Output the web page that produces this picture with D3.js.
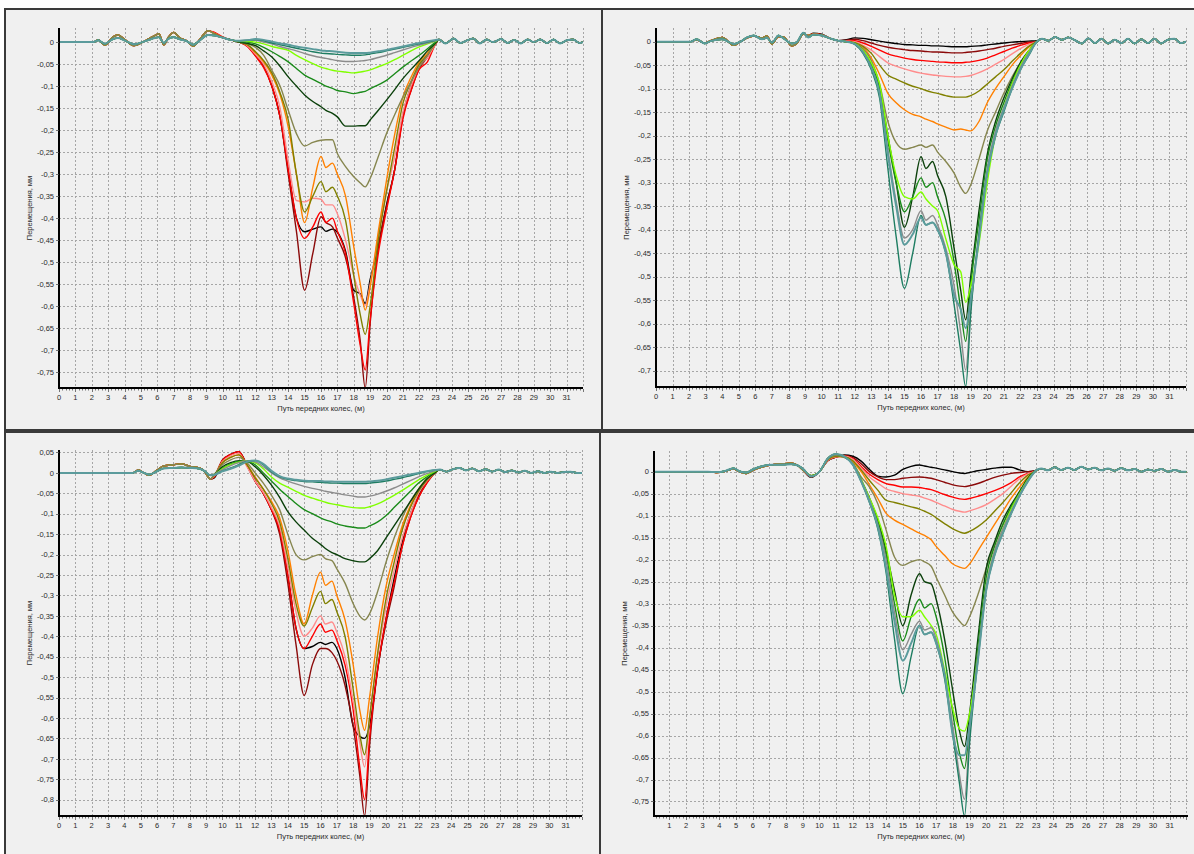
<!DOCTYPE html>
<html>
<head>
<meta charset="utf-8">
<script src="https://cdn.jsdelivr.net/npm/d3@7"></script>
<style>
  body { margin: 0; background: #fff; }
  text { font-family: "Liberation Sans", Arial, sans-serif; font-size: 7.5px; fill: #2a2a2a; }
</style>
</head>
<body>
<svg id="chart" width="1194" height="854"></svg>
<script>
// series order: black, maroon, red, salmon, orange, olive, khaki, dkgreen, green, lime, gray, seagreen, cadet
const seriesColors = ["#000000", "#8b0a0a", "#ff0000", "#ff8c8c", "#ff8000", "#808000", "#86864f",
                      "#0b400b", "#1a8a1a", "#80ff00", "#8c8c8c", "#1e7d62", "#5b9b9c"];
// the first seven series use the "warm" lead-in, the rest the "cool" one
const warmCount = 7;

// x positions of the middle part shared by every series
const midX = [9.5, 10, 10.5, 11, 11.5, 12, 12.5, 13, 13.5, 14, 14.5, 15, 15.5, 16, 16.3, 16.7, 17, 17.5,
              18, 18.4, 18.7, 19, 19.5, 20, 20.5, 21, 21.5, 22, 22.5, 23];

const xTicksAll = [0, 1, 2, 3, 4, 5, 6, 7, 8, 9, 10, 11, 12, 13, 14, 15, 16, 17, 18, 19, 20, 21, 22, 23, 24, 25, 26, 27, 28, 29, 30, 31];
const xTicksBR = [1, 2, 3, 4, 5, 6, 7, 8, 9, 10, 11, 12, 13, 14, 15, 16, 17, 18, 19, 20, 21, 22, 23, 24, 25, 26, 27, 28, 29, 30, 31];

// ---------- top left ----------
const tlYTicks = [0, -0.05, -0.1, -0.15, -0.2, -0.25, -0.3, -0.35, -0.4, -0.45, -0.5, -0.55, -0.6, -0.65, -0.7, -0.75];
const tlLeadX = [0, 2.1, 2.4, 2.8, 3.3, 3.6, 4.0, 4.6, 5.1, 5.5, 5.9, 6.1, 6.4, 6.7, 7.0, 7.4, 7.8, 8.2, 8.6, 9.1];
const tlLeadWarm = [0, 0, 0.005, -0.007, 0.012, 0.016, 0.006, -0.008, 0.0, 0.008, 0.016, 0.019, -0.006, 0.012, 0.022, 0.009, 0.003, -0.009, 0.006, 0.026];
const tlLeadCool = [0, 0, 0.004, -0.004, 0.007, 0.009, 0.004, -0.005, 0.0, 0.005, 0.010, 0.011, -0.002, 0.008, 0.011, 0.006, 0.002, -0.006, 0.004, 0.016];
const tlTailX = [23.2, 23.6, 24.1, 24.5, 25.0, 25.3, 25.7, 26.1, 26.5, 27.0, 27.4, 27.8, 28.2, 28.6, 29.0, 29.4, 29.8, 30.2, 30.6, 31.0, 31.4, 31.8, 32];
const tlTailY = [0.006, -0.003, 0.008, -0.002, 0.005, 0.008, -0.003, 0.006, 0.0, 0.007, -0.002, 0.005, -0.003, 0.006, 0.0, 0.006, -0.002, 0.006, -0.003, 0.004, 0.006, -0.002, 0.0];
const tlMid = [
  [0.02, 0.01, 0.005, 0.0, -0.008, -0.03, -0.055, -0.1, -0.17, -0.29, -0.40, -0.431, -0.425, -0.42, -0.43, -0.425, -0.432, -0.475, -0.564, -0.572, -0.594, -0.54, -0.465, -0.37, -0.29, -0.165, -0.1, -0.055, -0.03, -0.004],
  [0.02, 0.01, 0.005, 0.0, -0.008, -0.03, -0.055, -0.1, -0.17, -0.3, -0.43, -0.564, -0.48, -0.397, -0.41, -0.42, -0.445, -0.49, -0.58, -0.68, -0.786, -0.64, -0.465, -0.374, -0.29, -0.17, -0.11, -0.06, -0.035, -0.004],
  [0.022, 0.012, 0.005, 0.0, -0.01, -0.032, -0.058, -0.1, -0.17, -0.29, -0.40, -0.446, -0.42, -0.386, -0.41, -0.40, -0.43, -0.48, -0.594, -0.69, -0.745, -0.632, -0.48, -0.382, -0.29, -0.175, -0.11, -0.062, -0.045, -0.004],
  [0.02, 0.01, 0.005, 0.0, -0.008, -0.028, -0.05, -0.09, -0.15, -0.27, -0.36, -0.363, -0.355, -0.357, -0.37, -0.37, -0.39, -0.45, -0.53, -0.575, -0.598, -0.55, -0.44, -0.34, -0.26, -0.16, -0.1, -0.055, -0.035, -0.004],
  [0.019, 0.01, 0.005, 0.0, -0.006, -0.024, -0.045, -0.075, -0.12, -0.193, -0.3, -0.41, -0.33, -0.26, -0.285, -0.275, -0.30, -0.35, -0.465, -0.55, -0.609, -0.557, -0.43, -0.314, -0.21, -0.125, -0.08, -0.045, -0.025, -0.002],
  [0.019, 0.01, 0.005, 0.0, -0.006, -0.022, -0.042, -0.07, -0.115, -0.177, -0.3, -0.386, -0.35, -0.317, -0.34, -0.33, -0.35, -0.405, -0.53, -0.62, -0.664, -0.6, -0.45, -0.34, -0.24, -0.14, -0.09, -0.05, -0.03, -0.002],
  [0.018, 0.01, 0.005, 0.0, -0.004, -0.012, -0.03, -0.064, -0.1, -0.155, -0.208, -0.236, -0.228, -0.223, -0.222, -0.222, -0.253, -0.283, -0.306, -0.32, -0.329, -0.31, -0.26, -0.208, -0.165, -0.125, -0.09, -0.057, -0.03, -0.002],
  [0.015, 0.01, 0.005, 0.0, -0.003, -0.008, -0.02, -0.034, -0.055, -0.079, -0.1, -0.12, -0.135, -0.147, -0.155, -0.162, -0.17, -0.191, -0.191, -0.19, -0.19, -0.177, -0.155, -0.132, -0.108, -0.083, -0.062, -0.042, -0.02, -0.002],
  [0.015, 0.01, 0.005, 0.001, 0.0, -0.004, -0.012, -0.022, -0.033, -0.045, -0.06, -0.075, -0.085, -0.094, -0.1, -0.105, -0.11, -0.113, -0.117, -0.114, -0.112, -0.106, -0.097, -0.087, -0.072, -0.057, -0.043, -0.03, -0.015, 0.0],
  [0.015, 0.01, 0.005, 0.002, 0.002, 0.0, -0.004, -0.01, -0.014, -0.019, -0.03, -0.04, -0.049, -0.057, -0.06, -0.064, -0.066, -0.068, -0.07, -0.068, -0.066, -0.063, -0.056, -0.049, -0.04, -0.03, -0.02, -0.011, -0.004, 0.002],
  [0.015, 0.01, 0.005, 0.003, 0.004, 0.004, 0.0, -0.004, -0.01, -0.015, -0.02, -0.026, -0.031, -0.035, -0.037, -0.04, -0.042, -0.044, -0.044, -0.043, -0.042, -0.04, -0.035, -0.03, -0.024, -0.018, -0.012, -0.007, -0.002, 0.003],
  [0.015, 0.01, 0.005, 0.003, 0.004, 0.006, 0.003, -0.002, -0.006, -0.01, -0.014, -0.018, -0.022, -0.025, -0.026, -0.027, -0.028, -0.029, -0.03, -0.03, -0.029, -0.027, -0.024, -0.02, -0.016, -0.012, -0.008, -0.004, 0.0, 0.004],
  [0.015, 0.01, 0.005, 0.003, 0.004, 0.007, 0.005, 0.001, -0.003, -0.006, -0.01, -0.013, -0.016, -0.019, -0.02, -0.021, -0.022, -0.024, -0.025, -0.025, -0.025, -0.024, -0.021, -0.018, -0.014, -0.01, -0.006, -0.002, 0.002, 0.005]
];

// ---------- top right ----------
const trYTicks = [0, -0.05, -0.1, -0.15, -0.2, -0.25, -0.3, -0.35, -0.4, -0.45, -0.5, -0.55, -0.6, -0.65, -0.7];
const trLeadX = [0, 2.1, 2.45, 2.95, 3.3, 4.0, 4.7, 5.1, 5.5, 5.9, 6.4, 6.7, 7.0, 7.4, 7.7, 8.2, 8.5, 8.9, 9.2];
const trLeadWarm = [0, 0, 0.004, -0.003, 0.002, 0.009, -0.008, 0.0, 0.008, 0.012, 0.008, 0.012, -0.005, 0.011, 0.01, -0.009, -0.004, 0.016, 0.013];
const trLeadCool = [0, 0, 0.005, -0.004, 0.001, 0.005, -0.005, 0.0, 0.009, 0.013, 0.005, 0.008, -0.002, 0.013, 0.007, -0.004, -0.001, 0.019, 0.009];
const trTailX = [23.3, 23.7, 24.1, 24.5, 24.9, 25.3, 25.7, 26.1, 26.5, 26.9, 27.3, 27.7, 28.1, 28.5, 28.9, 29.3, 29.7, 30.1, 30.5, 30.9, 31.3, 31.7, 32];
const trTailY = [0.006, 0.002, 0.01, 0.004, 0.009, 0.003, -0.004, 0.007, -0.003, 0.006, -0.004, 0.004, -0.003, 0.006, -0.004, 0.005, -0.003, 0.006, -0.004, 0.004, 0.006, -0.003, 0.0];
const trMid = [
  [0.018, 0.016, 0.007, 0.002, 0.004, 0.008, 0.007, 0.004, 0.001, -0.002, -0.004, -0.006, -0.007, -0.008, -0.008, -0.009, -0.009, -0.01, -0.011, -0.011, -0.011, -0.01, -0.009, -0.007, -0.005, -0.003, -0.001, 0.0, 0.001, 0.002],
  [0.017, 0.015, 0.007, 0.002, 0.003, 0.005, 0.002, -0.003, -0.008, -0.012, -0.015, -0.017, -0.019, -0.02, -0.021, -0.022, -0.022, -0.023, -0.024, -0.024, -0.023, -0.022, -0.02, -0.017, -0.014, -0.01, -0.007, -0.004, -0.001, 0.0],
  [0.017, 0.015, 0.007, 0.002, 0.002, 0.002, -0.003, -0.01, -0.018, -0.026, -0.031, -0.035, -0.038, -0.04, -0.041, -0.042, -0.043, -0.044, -0.045, -0.045, -0.044, -0.043, -0.04, -0.035, -0.028, -0.021, -0.014, -0.008, -0.003, 0.0],
  [0.016, 0.014, 0.007, 0.002, 0.001, 0.0, -0.008, -0.018, -0.032, -0.045, -0.052, -0.058, -0.063, -0.067, -0.069, -0.071, -0.072, -0.074, -0.075, -0.075, -0.074, -0.072, -0.066, -0.058, -0.048, -0.038, -0.026, -0.015, -0.006, 0.0],
  [0.016, 0.014, 0.007, 0.002, 0.0, -0.003, -0.012, -0.035, -0.07, -0.11, -0.13, -0.145, -0.155, -0.16, -0.165, -0.17, -0.175, -0.182, -0.188, -0.186, -0.188, -0.19, -0.17, -0.13, -0.1, -0.075, -0.05, -0.03, -0.012, 0.0],
  [0.016, 0.014, 0.007, 0.002, 0.0, -0.002, -0.01, -0.025, -0.05, -0.071, -0.08, -0.088, -0.095, -0.1, -0.104, -0.108, -0.11, -0.115, -0.118, -0.118, -0.118, -0.115, -0.105, -0.09, -0.075, -0.06, -0.042, -0.025, -0.01, 0.0],
  [0.015, 0.014, 0.007, 0.002, 0.0, -0.004, -0.015, -0.04, -0.09, -0.17, -0.215, -0.229, -0.225, -0.22, -0.225, -0.22, -0.235, -0.255, -0.28, -0.31, -0.323, -0.305, -0.25, -0.19, -0.15, -0.11, -0.075, -0.045, -0.02, 0.0],
  [0.015, 0.013, 0.007, 0.002, 0.0, -0.004, -0.02, -0.05, -0.1, -0.2, -0.3, -0.395, -0.33, -0.245, -0.27, -0.255, -0.285, -0.33, -0.44, -0.53, -0.592, -0.5, -0.36, -0.24, -0.17, -0.12, -0.08, -0.045, -0.02, 0.0],
  [0.015, 0.013, 0.007, 0.002, 0.0, -0.004, -0.02, -0.05, -0.1, -0.21, -0.3, -0.362, -0.33, -0.29, -0.31, -0.3, -0.33, -0.38, -0.47, -0.57, -0.638, -0.52, -0.38, -0.25, -0.18, -0.13, -0.085, -0.05, -0.022, 0.0],
  [0.015, 0.013, 0.007, 0.002, 0.0, -0.004, -0.018, -0.045, -0.09, -0.2, -0.285, -0.33, -0.335, -0.32, -0.335, -0.35, -0.36, -0.42, -0.475, -0.49, -0.555, -0.52, -0.43, -0.3, -0.2, -0.14, -0.09, -0.05, -0.02, 0.0],
  [0.015, 0.013, 0.007, 0.002, 0.0, -0.005, -0.022, -0.055, -0.11, -0.23, -0.34, -0.418, -0.4, -0.36, -0.38, -0.37, -0.39, -0.44, -0.52, -0.62, -0.699, -0.57, -0.41, -0.27, -0.19, -0.14, -0.095, -0.055, -0.025, 0.0],
  [0.015, 0.013, 0.007, 0.002, 0.0, -0.006, -0.025, -0.06, -0.12, -0.27, -0.415, -0.525, -0.45, -0.37, -0.39, -0.385, -0.4, -0.45, -0.56, -0.66, -0.734, -0.58, -0.41, -0.28, -0.2, -0.15, -0.1, -0.06, -0.03, 0.0],
  [0.015, 0.013, 0.007, 0.002, 0.0, -0.005, -0.022, -0.055, -0.11, -0.24, -0.35, -0.432, -0.41, -0.375, -0.39, -0.385, -0.4, -0.45, -0.54, -0.57, -0.61, -0.55, -0.42, -0.28, -0.2, -0.145, -0.1, -0.06, -0.028, 0.0]
];

// ---------- bottom left ----------
const blYTicks = [0.05, 0, -0.05, -0.1, -0.15, -0.2, -0.25, -0.3, -0.35, -0.4, -0.45, -0.5, -0.55, -0.6, -0.65, -0.7, -0.75, -0.8];
const blLeadX = [0, 4.5, 4.85, 5.2, 5.5, 6.0, 6.4, 7.0, 7.5, 8.0, 8.6, 8.9, 9.25];
const blLeadWarm = [0, 0, 0.007, 0.0, -0.006, 0.007, 0.017, 0.02, 0.022, 0.016, 0.012, 0.004, -0.015];
const blLeadCool = [0, 0, 0.005, 0.0, -0.004, 0.004, 0.011, 0.012, 0.013, 0.012, 0.01, 0.005, -0.006];
const blTailX = [23.3, 23.7, 24.1, 24.5, 24.9, 25.3, 25.7, 26.1, 26.5, 26.9, 27.3, 27.7, 28.1, 28.5, 28.9, 29.3, 29.7, 30.1, 30.5, 30.9, 31.3, 31.7, 32];
const blTailY = [0.008, 0.003, 0.009, 0.012, 0.006, 0.011, 0.004, 0.009, 0.003, 0.008, 0.002, 0.006, 0.001, 0.005, 0.0, 0.004, 0.0, 0.003, 0.0, 0.002, 0.003, 0.0, 0.0];
const blMid = [
  [-0.012, 0.03, 0.045, 0.052, 0.018, -0.02, -0.05, -0.09, -0.14, -0.25, -0.38, -0.43, -0.425, -0.415, -0.42, -0.415, -0.43, -0.5, -0.62, -0.645, -0.65, -0.62, -0.48, -0.36, -0.26, -0.17, -0.1, -0.055, -0.02, 0.0],
  [-0.008, 0.032, 0.045, 0.052, 0.02, -0.02, -0.05, -0.09, -0.15, -0.27, -0.42, -0.545, -0.47, -0.43, -0.43, -0.44, -0.46, -0.52, -0.62, -0.74, -0.84, -0.67, -0.48, -0.37, -0.28, -0.18, -0.11, -0.06, -0.025, 0.0],
  [-0.01, 0.03, 0.045, 0.052, 0.018, -0.02, -0.05, -0.09, -0.14, -0.25, -0.38, -0.43, -0.4, -0.37, -0.39, -0.385, -0.41, -0.47, -0.58, -0.72, -0.80, -0.65, -0.48, -0.36, -0.27, -0.18, -0.11, -0.06, -0.025, 0.0],
  [-0.008, 0.028, 0.042, 0.048, 0.015, -0.02, -0.048, -0.085, -0.13, -0.23, -0.34, -0.40, -0.38, -0.35, -0.37, -0.365, -0.39, -0.45, -0.56, -0.66, -0.72, -0.6, -0.45, -0.33, -0.24, -0.16, -0.1, -0.05, -0.02, 0.0],
  [-0.006, 0.025, 0.038, 0.044, 0.02, -0.01, -0.04, -0.07, -0.11, -0.19, -0.3, -0.37, -0.3, -0.243, -0.275, -0.265, -0.3, -0.36, -0.47, -0.58, -0.63, -0.55, -0.4, -0.28, -0.2, -0.13, -0.08, -0.04, -0.015, 0.0],
  [-0.006, 0.025, 0.038, 0.044, 0.02, -0.012, -0.04, -0.075, -0.12, -0.21, -0.32, -0.375, -0.33, -0.29, -0.32, -0.31, -0.34, -0.4, -0.53, -0.64, -0.69, -0.6, -0.44, -0.31, -0.22, -0.14, -0.085, -0.045, -0.018, 0.0],
  [-0.004, 0.02, 0.032, 0.038, 0.025, 0.0, -0.025, -0.055, -0.09, -0.15, -0.2, -0.213, -0.205, -0.2, -0.21, -0.215, -0.235, -0.27, -0.32, -0.35, -0.36, -0.345, -0.29, -0.22, -0.16, -0.11, -0.07, -0.04, -0.015, 0.0],
  [-0.004, 0.015, 0.025, 0.03, 0.028, 0.015, -0.005, -0.03, -0.06, -0.095, -0.12, -0.14, -0.16, -0.175, -0.185, -0.195, -0.2, -0.21, -0.215, -0.218, -0.218, -0.21, -0.19, -0.16, -0.13, -0.1, -0.07, -0.04, -0.015, 0.0],
  [-0.004, 0.012, 0.022, 0.028, 0.028, 0.02, 0.0, -0.02, -0.04, -0.058, -0.075, -0.09, -0.1, -0.11, -0.115, -0.12, -0.125, -0.13, -0.133, -0.135, -0.135, -0.13, -0.12, -0.105, -0.085, -0.065, -0.045, -0.025, -0.01, 0.003],
  [-0.004, 0.01, 0.02, 0.026, 0.029, 0.025, 0.01, -0.01, -0.025, -0.035, -0.045, -0.055, -0.062, -0.068, -0.072, -0.076, -0.078, -0.082, -0.085, -0.086, -0.086, -0.083, -0.076, -0.066, -0.055, -0.043, -0.03, -0.017, -0.006, 0.004],
  [-0.004, 0.008, 0.018, 0.025, 0.029, 0.027, 0.015, 0.0, -0.012, -0.02, -0.027, -0.033, -0.038, -0.042, -0.045, -0.048, -0.05, -0.054, -0.057, -0.059, -0.059, -0.057, -0.052, -0.045, -0.037, -0.028, -0.019, -0.01, -0.002, 0.005],
  [-0.005, 0.005, 0.012, 0.02, 0.028, 0.03, 0.02, 0.002, -0.01, -0.016, -0.019, -0.021, -0.022, -0.023, -0.024, -0.025, -0.025, -0.026, -0.026, -0.026, -0.026, -0.025, -0.023, -0.02, -0.016, -0.012, -0.007, -0.002, 0.003, 0.007],
  [-0.005, 0.004, 0.01, 0.018, 0.027, 0.03, 0.022, 0.005, -0.008, -0.014, -0.017, -0.019, -0.02, -0.02, -0.021, -0.021, -0.022, -0.022, -0.022, -0.022, -0.022, -0.021, -0.019, -0.016, -0.012, -0.008, -0.004, 0.0, 0.004, 0.007]
];

// ---------- bottom right ----------
const brYTicks = [0, -0.05, -0.1, -0.15, -0.2, -0.25, -0.3, -0.35, -0.4, -0.45, -0.5, -0.55, -0.6, -0.65, -0.7, -0.75];
const brLeadX = [0, 3.3, 3.8, 4.3, 4.85, 5.2, 5.6, 6.0, 6.6, 7.2, 7.8, 8.3, 8.7, 9.0];
const brLeadWarm = [0, 0, -0.002, 0.0, 0.006, 0.0, -0.004, 0.003, 0.011, 0.016, 0.018, 0.019, 0.014, 0.004];
const brLeadCool = [0, 0, -0.001, 0.001, 0.008, 0.001, -0.002, 0.005, 0.013, 0.016, 0.016, 0.017, 0.014, 0.007];
const brTailX = [23.3, 23.7, 24.1, 24.5, 24.9, 25.3, 25.7, 26.1, 26.5, 26.9, 27.3, 27.7, 28.1, 28.5, 28.9, 29.3, 29.7, 30.1, 30.5, 30.9, 31.3, 31.7, 32];
const brTailY = [0.007, 0.003, 0.01, 0.004, 0.009, 0.004, 0.011, 0.005, 0.009, 0.003, 0.007, 0.002, 0.008, 0.003, 0.006, 0.0, 0.005, 0.002, 0.006, 0.0, 0.004, 0.0, 0.0];
const brMid = [
  [-0.013, 0.0, 0.025, 0.033, 0.038, 0.035, 0.024, 0.005, -0.01, -0.012, -0.008, 0.005, 0.012, 0.015, 0.013, 0.01, 0.008, 0.004, 0.0, -0.003, -0.004, -0.002, 0.002, 0.005, 0.008, 0.01, 0.01, 0.004, 0.0, 0.003],
  [-0.012, 0.0, 0.025, 0.033, 0.037, 0.032, 0.018, 0.0, -0.012, -0.018, -0.018, -0.015, -0.013, -0.012, -0.013, -0.015, -0.018, -0.024, -0.03, -0.033, -0.034, -0.032, -0.027, -0.02, -0.013, -0.008, -0.004, -0.002, 0.0, 0.003],
  [-0.011, 0.0, 0.026, 0.034, 0.036, 0.03, 0.012, -0.006, -0.018, -0.027, -0.031, -0.035, -0.035, -0.036, -0.038, -0.041, -0.045, -0.052, -0.058, -0.062, -0.063, -0.061, -0.056, -0.05, -0.043, -0.035, -0.025, -0.012, -0.004, 0.002],
  [-0.01, 0.0, 0.026, 0.034, 0.035, 0.028, 0.008, -0.012, -0.026, -0.039, -0.045, -0.05, -0.053, -0.056, -0.06, -0.065, -0.07, -0.078, -0.086, -0.09, -0.092, -0.089, -0.083, -0.075, -0.063, -0.05, -0.033, -0.016, -0.005, 0.002],
  [-0.009, 0.0, 0.027, 0.035, 0.033, 0.022, 0.0, -0.03, -0.061, -0.095, -0.11, -0.12, -0.13, -0.14, -0.145, -0.155, -0.17, -0.19, -0.21, -0.217, -0.22, -0.21, -0.18, -0.15, -0.12, -0.09, -0.06, -0.035, -0.012, 0.002],
  [-0.009, 0.0, 0.027, 0.035, 0.034, 0.025, 0.004, -0.02, -0.042, -0.065, -0.07, -0.075, -0.08, -0.085, -0.09, -0.097, -0.105, -0.118, -0.13, -0.137, -0.14, -0.136, -0.125, -0.11, -0.09, -0.07, -0.048, -0.025, -0.008, 0.002],
  [-0.009, 0.0, 0.028, 0.037, 0.032, 0.02, -0.012, -0.035, -0.073, -0.133, -0.194, -0.213, -0.205, -0.2, -0.205, -0.215, -0.24, -0.28, -0.32, -0.34, -0.35, -0.33, -0.28, -0.22, -0.165, -0.12, -0.08, -0.05, -0.018, 0.002],
  [-0.009, 0.0, 0.03, 0.04, 0.034, 0.018, -0.018, -0.06, -0.11, -0.18, -0.27, -0.35, -0.28, -0.232, -0.25, -0.255, -0.29, -0.38, -0.5, -0.59, -0.625, -0.55, -0.38, -0.22, -0.16, -0.11, -0.075, -0.045, -0.015, 0.003],
  [-0.009, 0.0, 0.03, 0.04, 0.034, 0.018, -0.02, -0.065, -0.115, -0.19, -0.3, -0.385, -0.33, -0.29, -0.31, -0.3, -0.33, -0.42, -0.55, -0.64, -0.675, -0.58, -0.4, -0.24, -0.17, -0.12, -0.08, -0.048, -0.017, 0.003],
  [-0.009, 0.0, 0.03, 0.04, 0.034, 0.018, -0.018, -0.06, -0.105, -0.17, -0.28, -0.33, -0.33, -0.315, -0.33, -0.35, -0.37, -0.45, -0.54, -0.585, -0.59, -0.55, -0.42, -0.26, -0.18, -0.13, -0.085, -0.05, -0.018, 0.003],
  [-0.01, 0.0, 0.03, 0.04, 0.034, 0.018, -0.02, -0.065, -0.12, -0.2, -0.32, -0.405, -0.37, -0.34, -0.36, -0.355, -0.38, -0.46, -0.58, -0.69, -0.745, -0.6, -0.42, -0.26, -0.18, -0.13, -0.09, -0.052, -0.02, 0.003],
  [-0.011, 0.0, 0.03, 0.04, 0.034, 0.016, -0.022, -0.07, -0.13, -0.23, -0.38, -0.505, -0.42, -0.35, -0.37, -0.365, -0.39, -0.47, -0.6, -0.71, -0.783, -0.62, -0.43, -0.27, -0.19, -0.14, -0.095, -0.055, -0.022, 0.003],
  [-0.011, 0.0, 0.03, 0.04, 0.034, 0.016, -0.022, -0.068, -0.125, -0.22, -0.34, -0.43, -0.39, -0.35, -0.37, -0.365, -0.39, -0.46, -0.6, -0.645, -0.645, -0.58, -0.43, -0.27, -0.19, -0.14, -0.095, -0.055, -0.022, 0.003]
];

const panels = [
  { frame: [5, 9, 597, 421], xr: [59, 583], xd: [0, 32], yr: [28, 388], yd: [0.032, -0.786],
    yTicks: tlYTicks, xTicks: xTicksAll, leadX: tlLeadX, leadWarm: tlLeadWarm, leadCool: tlLeadCool,
    tailX: tlTailX, tailY: tlTailY, mid: tlMid },
  { frame: [602, 9, 600, 421], xr: [656, 1186], xd: [0, 32], yr: [28, 387], yd: [0.029, -0.735],
    yTicks: trYTicks, xTicks: xTicksAll, leadX: trLeadX, leadWarm: trLeadWarm, leadCool: trLeadCool,
    tailX: trTailX, tailY: trTailY, mid: trMid },
  { frame: [5, 432, 595, 430], xr: [59, 582], xd: [0, 32], yr: [450, 816], yd: [0.056, -0.84],
    yTicks: blYTicks, xTicks: xTicksAll, leadX: blLeadX, leadWarm: blLeadWarm, leadCool: blLeadCool,
    tailX: blTailX, tailY: blTailY, mid: blMid },
  { frame: [600, 432, 600, 430], xr: [654, 1188], xd: [0.08, 32.1], yr: [451, 816], yd: [0.047, -0.783],
    yTicks: brYTicks, xTicks: xTicksBR, leadX: brLeadX, leadWarm: brLeadWarm, leadCool: brLeadCool,
    tailX: brTailX, tailY: brTailY, mid: brMid }
];

const svg = d3.select("#chart");
const fmt = v => String(+v.toFixed(2)).replace(".", ",");

panels.forEach((p, pi) => {
  const g = svg.append("g");
  const [fx, fy, fw, fh] = p.frame;
  g.append("rect").attr("x", fx).attr("y", fy).attr("width", fw).attr("height", fh)
    .attr("fill", "#f0f0f0").attr("stroke", "#3a3a3a").attr("stroke-width", 2);

  const x = d3.scaleLinear().domain(p.xd).range(p.xr);
  const y = d3.scaleLinear().domain(p.yd).range(p.yr);
  const left = p.xr[0], right = p.xr[1], top = p.yr[0], bottom = p.yr[1];

  // dashed grid
  const vLines = d3.range(Math.ceil(p.xd[0] + 0.5), Math.floor(p.xd[1]) + 1);
  g.append("g").selectAll("line").data(vLines).join("line")
    .attr("x1", d => Math.round(x(d)) + 0.5).attr("x2", d => Math.round(x(d)) + 0.5)
    .attr("y1", top).attr("y2", bottom)
    .attr("stroke", "#a6a6a6").attr("stroke-dasharray", "2,2");
  g.append("g").selectAll("line").data(p.yTicks).join("line")
    .attr("x1", left).attr("x2", right)
    .attr("y1", d => Math.round(y(d)) + 0.5).attr("y2", d => Math.round(y(d)) + 0.5)
    .attr("stroke", "#a6a6a6").attr("stroke-dasharray", "2,2");

  // series
  const clipId = "clip" + pi;
  g.append("clipPath").attr("id", clipId).append("rect")
    .attr("x", left).attr("y", top - 6).attr("width", right - left).attr("height", bottom - top + 6);
  const line = d3.line().x(d => x(d[0])).y(d => y(d[1])).curve(d3.curveMonotoneX);
  const lines = g.append("g").attr("clip-path", `url(#${clipId})`);
  p.mid.forEach((vals, si) => {
    const lead = si < warmCount ? p.leadWarm : p.leadCool;
    const pts = p.leadX.map((v, i) => [v, lead[i]])
      .concat(midX.map((v, i) => [v, vals[i]]))
      .concat(p.tailX.map((v, i) => [v, p.tailY[i]]));
    lines.append("path").datum(pts).attr("d", line)
      .attr("fill", "none").attr("stroke", seriesColors[si])
      .attr("stroke-width", si === seriesColors.length - 1 ? 2 : 1.4)
      .attr("stroke-linejoin", "round");
  });

  // axes
  g.append("line").attr("x1", left).attr("x2", left).attr("y1", top).attr("y2", bottom + 1)
    .attr("stroke", "#000").attr("stroke-width", 2);
  g.append("line").attr("x1", left - 1).attr("x2", right).attr("y1", bottom).attr("y2", bottom)
    .attr("stroke", "#000").attr("stroke-width", 2);

  // minor and major x ticks
  const minor = d3.range(Math.ceil(p.xd[0] * 5), Math.floor(p.xd[1] * 5) + 1).map(d => d / 5);
  g.append("g").selectAll("line").data(minor).join("line")
    .attr("x1", d => Math.round(x(d)) + 0.5).attr("x2", d => Math.round(x(d)) + 0.5)
    .attr("y1", bottom + 1).attr("y2", d => Math.abs(d - Math.round(d)) < 1e-6 ? bottom + 4 : bottom + 2.5)
    .attr("stroke", "#555").attr("stroke-width", 0.8);
  g.append("g").selectAll("line").data(p.yTicks).join("line")
    .attr("x1", left - 3).attr("x2", left)
    .attr("y1", d => Math.round(y(d)) + 0.5).attr("y2", d => Math.round(y(d)) + 0.5)
    .attr("stroke", "#555").attr("stroke-width", 0.8);

  g.append("g").selectAll("text").data(p.xTicks).join("text")
    .attr("x", d => x(d)).attr("y", bottom + 12).attr("text-anchor", "middle").text(d => d);
  g.append("g").selectAll("text").data(p.yTicks).join("text")
    .attr("x", left - 5).attr("y", d => y(d) + 2.7).attr("text-anchor", "end").text(fmt);

  g.append("text").attr("x", (left + right) / 2).attr("y", bottom + 23)
    .attr("text-anchor", "middle").text("Путь передних колес, (м)");
  g.append("text").attr("transform", `translate(${left - 27},${(top + bottom) / 2}) rotate(-90)`)
    .attr("text-anchor", "middle").text("Перемещения, мм");
});
</script>
</body>
</html>
